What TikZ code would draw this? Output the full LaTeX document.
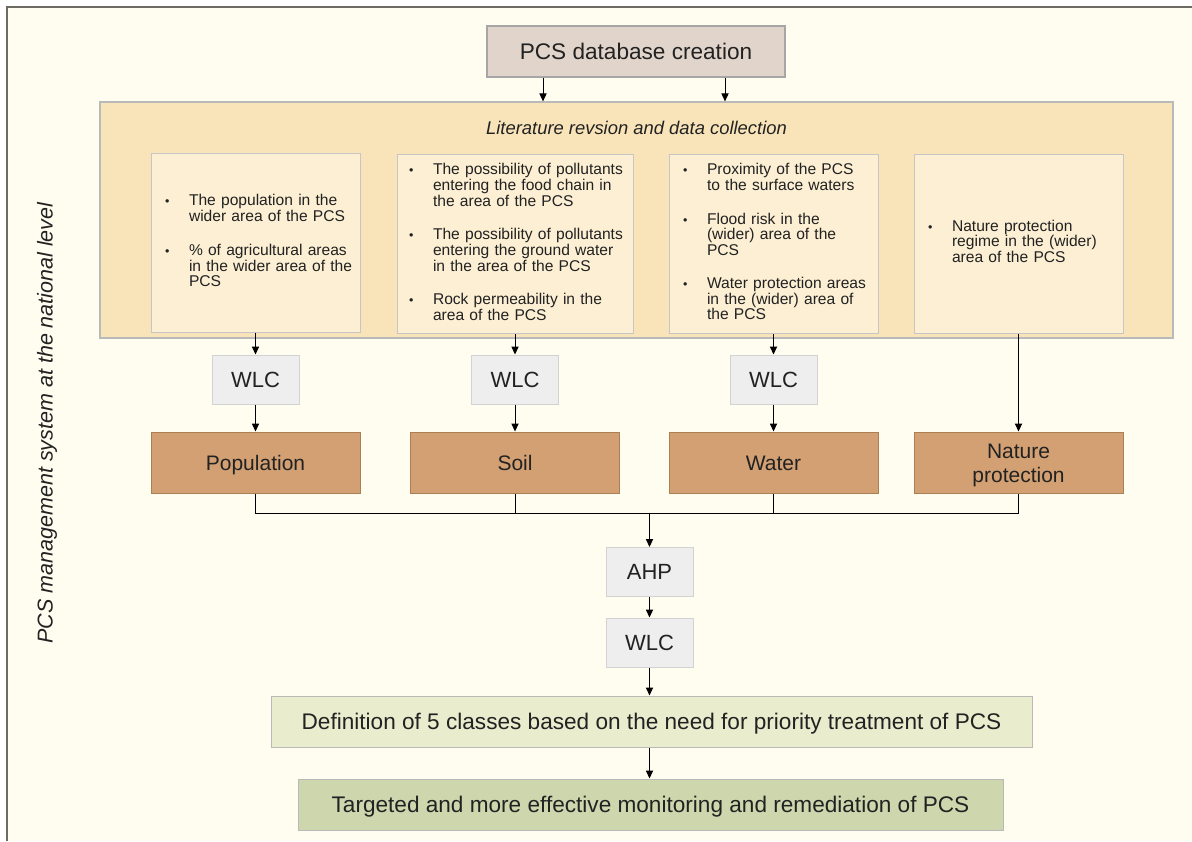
\documentclass[tikz,border=0pt]{standalone}
\usepackage{fontspec}
\setmainfont{Liberation Sans}
\usetikzlibrary{arrows.meta}

\definecolor{bgcream}{HTML}{FFFDF0}
\definecolor{framegray}{HTML}{6E6A64}
\definecolor{dbfill}{HTML}{E1D4CA}
\definecolor{litfill}{HTML}{F9E4BA}
\definecolor{critfill}{HTML}{FCEFD3}
\definecolor{wlcfill}{HTML}{EEEEEE}
\definecolor{factfill}{HTML}{D3A073}
\definecolor{deffill}{HTML}{E9EDCD}
\definecolor{tgtfill}{HTML}{CED6AE}
\definecolor{inkgray}{HTML}{222222}

\newcommand{\bigfont}{\fontsize{11.3}{13}\selectfont}
\newcommand{\critlist}[1]{\begin{tabular}{@{}p{12pt}@{}l@{}}#1\end{tabular}}
\newcommand{\bul}{\scalebox{0.8}{\textbullet}}

\tikzset{
  dbbox/.style={draw=gray!70, fill=dbfill, line width=0.6pt,
    minimum width=149pt, minimum height=25.5pt, font=\bigfont},
  litpanel/.style={draw=gray!55, fill=litfill, line width=0.6pt,
    minimum width=536.5pt, minimum height=118pt},
  crit/.style={draw=gray!45, fill=critfill, line width=0.5pt,
    minimum height=89.5pt, inner xsep=7pt, inner ysep=0pt,
    text width=#1, align=left, font=\fontsize{7.8}{7.4}\selectfont},
  wlcbox/.style={draw=gray!35, fill=wlcfill, line width=0.5pt,
    minimum width=43.5pt, minimum height=24.5pt, font=\fontsize{11}{13}\selectfont},
  factor/.style={draw=brown!70!gray, fill=factfill, line width=0.5pt,
    minimum width=104.5pt, minimum height=30.5pt, align=center,
    text height=7.5pt, text depth=0pt, font=\fontsize{10.5}{12}\selectfont},
  resbox/.style={draw=gray!55, fill=#1, line width=0.5pt,
    minimum height=25.5pt, text height=8.1pt, text depth=0pt, font=\bigfont},
  flow/.style={-{Triangle[length=4pt,width=3.6pt]}, line width=0.5pt},
}

\begin{document}
\begin{tikzpicture}[x=0.5pt, y=-0.5pt, text=inkgray]
\useasboundingbox (0,0) rectangle (1192,841);
\fill[bgcream] (7,7) rectangle (1192,841);
\draw[framegray, line width=0.6pt] (7,841) -- (7,7) -- (1192,7);

\node[rotate=90, font=\itshape\fontsize{10.75}{12}\selectfont] (system) at (47,423)
  {PCS management system at the national level};

\node[dbbox] (db) at (636,51.5) {PCS database creation};

\node[litpanel] (lit) at (636.5,220) {};
\node[font=\itshape\fontsize{9.2}{11}\selectfont] (littitle) at (636.5,128)
  {Literature revsion and data collection};

% criteria boxes
\node[crit=90.5pt] (c1) at (255.5,242.5) {\critlist{%
  \bul & The population in the\\ & wider area of the PCS\\[9.2pt]
  \bul & \% of agricultural areas\\ & in the wider area of the\\ & PCS}};
\node[crit=106pt, inner xsep=6pt] (c2) at (515,244) {\critlist{%
  \bul & The possibility of pollutants\\ & entering the food chain in\\ & the area of the PCS\\[8.8pt]
  \bul & The possibility of pollutants\\ & entering the ground water\\ & in the area of the PCS\\[8.8pt]
  \bul & Rock permeability in the\\ & area of the PCS}};
\node[crit=90.5pt] (c3) at (773.5,244) {\critlist{%
  \bul & Proximity of the PCS\\ & to the surface waters\\[8.8pt]
  \bul & Flood risk in the\\ & (wider) area of the\\ & PCS\\[8.8pt]
  \bul & Water protection areas\\ & in the (wider) area of\\ & the PCS}};
\node[crit=90.5pt] (c4) at (1018.5,243.5) {\critlist{%
  \bul & Nature protection\\ & regime in the (wider)\\ & area of the PCS}};

\node[wlcbox] (w1) at (255.5,379.5) {WLC};
\node[wlcbox] (w2) at (515,379.5) {WLC};
\node[wlcbox] (w3) at (773.5,379.5) {WLC};

\node[factor] (f1) at (255.5,462.5) {Population};
\node[factor] (f2) at (515,462.5) {Soil};
\node[factor] (f3) at (773.5,462.5) {Water};
\node[factor, text height=19.5pt] (f4) at (1018.5,462.5) {Nature\\protection};

\coordinate (bus) at (649.5,513);
\node[wlcbox] (ahp) at (649.5,572) {AHP};
\node[wlcbox] (wall) at (649.5,642.5) {WLC};
\node[resbox=deffill, minimum width=380.5pt] (classes) at (651.5,721.5)
  {Definition of 5 classes based on the need for priority treatment of PCS};
\node[resbox=tgtfill, minimum width=352.5pt] (target) at (650.5,804.5)
  {Targeted and more effective monitoring and remediation of PCS};

% connectors
\path[flow] ([xshift=-46.5pt]db.south) edge ([xshift=-46.5pt]db.south |- lit.north);
\path[flow] ([xshift=44.5pt]db.south) edge ([xshift=44.5pt]db.south |- lit.north);
\path[flow] (c1) edge (w1);
\path[flow] (c2) edge (w2);
\path[flow] (c3) edge (w3);
\path[flow] (w1) edge (f1);
\path[flow] (w2) edge (f2);
\path[flow] (w3) edge (f3);
\path[flow] (c4) edge (f4);
\draw[line width=0.5pt] (f1.south) |- (bus) -| (f4.south);
\draw[line width=0.5pt] (f2.south) -- (f2.south |- bus);
\draw[line width=0.5pt] (f3.south) -- (f3.south |- bus);
\path[flow] (bus) edge (ahp);
\path[flow] (ahp) edge (wall);
\path[flow] (wall.south) edge (wall.south |- classes.north);
\path[flow] (wall.south |- classes.south) edge (wall.south |- target.north);
\end{tikzpicture}
\end{document}
